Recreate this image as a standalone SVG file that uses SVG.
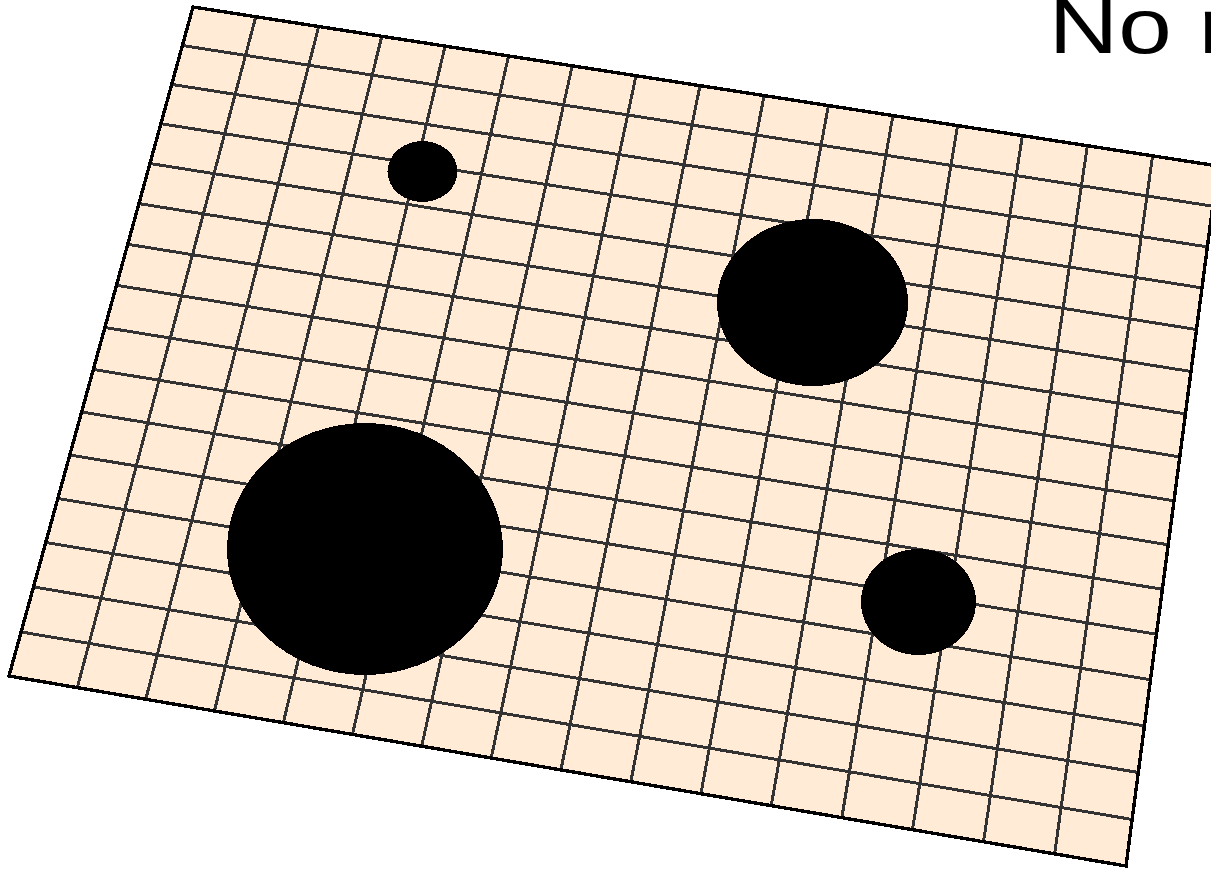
<svg xmlns="http://www.w3.org/2000/svg" width="1211" height="870" viewBox="0 0 1211 870">
<style>
.plane{fill:#FFEBD6;stroke:none}
.grid{fill:none;stroke:#333333;stroke-width:3;shape-rendering:crispEdges}
.border{fill:none;stroke:#000000;stroke-width:3.4;stroke-linejoin:miter;shape-rendering:crispEdges}
.hole{fill:#000000;stroke:none;shape-rendering:crispEdges}
.title{font-family:"Liberation Sans",Arial,sans-serif;font-size:77px;fill:#000000}
</style>
<rect x="0" y="0" width="1211" height="870" fill="#FFFFFF"/>
<g id="plane">
<polygon class="plane" points="193,7 1218,166 1126,866 9,676"/>
<path class="grid" d="M255.8,16.7L77.3,687.6 M318.7,26.5L145.8,699.3 M381.8,36.3L214.4,710.9 M445.1,46.1L283.3,722.7 M508.6,56L352.4,734.4 M572.2,65.8L421.7,746.2 M636,75.7L491.2,758 M700,85.6L560.9,769.9 M764.1,95.6L630.8,781.8 M828.4,105.6L700.9,793.7 M892.9,115.6L771.2,805.7 M957.6,125.6L841.8,817.7 M1022.4,135.7L912.5,829.7 M1087.4,145.7L983.5,841.8 M1152.6,155.9L1054.6,853.9"/>
<path class="grid" d="M182.4,45.5L1212.7,206.2 M171.7,84.4L1207.4,246.9 M160.9,123.7L1202,287.9 M150,163.5L1196.5,329.5 M138.9,203.6L1191,371.5 M127.8,244.3L1185.4,413.9 M116.5,285.3L1179.8,456.9 M105,327.5L1174.1,500.8 M93.5,369.5L1168.3,544.8 M81.8,412L1162.5,589.3 M70,455L1156.6,634.3 M58.1,498.5L1150.6,679.8 M46,542.5L1144.6,726 M33.8,587L1138.4,772.5 M21.5,632L1132.3,819.5"/>
<polygon class="border" points="193,7 1218,166 1126,866 9,676"/>
</g>
<g id="holes">
<ellipse class="hole" cx="422.5" cy="171.5" rx="35" ry="30.5"/>
<ellipse class="hole" cx="812.5" cy="302.5" rx="95.5" ry="83.5"/>
<ellipse class="hole" cx="365" cy="549" rx="138" ry="126"/>
<ellipse class="hole" cx="918.5" cy="602" rx="57.5" ry="53"/>
</g>
<g id="label">
<text class="title" transform="translate(1048.7,53) scale(1.25,1)" x="0" y="0">No r</text>
</g>
</svg>
